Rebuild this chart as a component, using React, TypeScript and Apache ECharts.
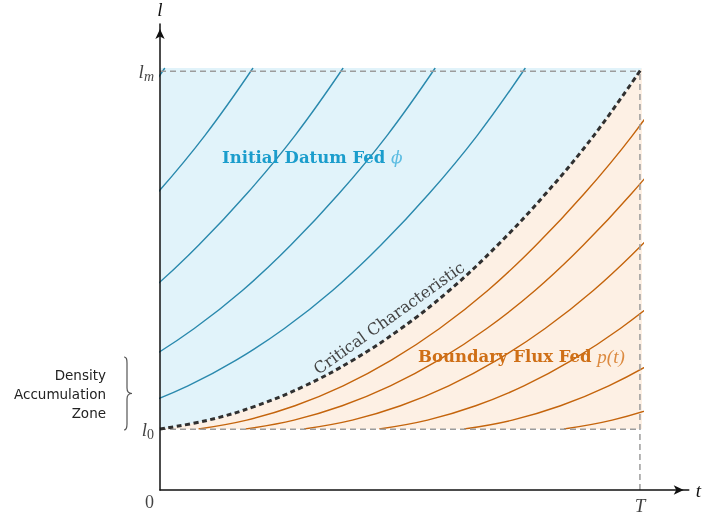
import React, { useEffect, useRef } from 'react';
import * as echarts from 'echarts';

// ---- data ----
const T = 1;
const L0 = 0.145;
const LM = 1;
// critical characteristic (t, l)
const criticalT = [0, 0.1, 0.2, 0.3, 0.4, 0.5, 0.6, 0.7, 0.8, 0.9, 1.0];
const criticalL = [0.145, 0.166, 0.2, 0.247, 0.308, 0.383, 0.473, 0.58, 0.702, 0.84, 1.0];
// characteristics fed by the initial datum: critical curve shifted left by these amounts
const initialShifts = [0.242, 0.429, 0.62, 0.807, 0.99];
// characteristics fed by the boundary flux: critical curve shifted right (entry times)
const boundaryShifts = [0.08, 0.178, 0.299, 0.455, 0.631, 0.838];
const tickLabels = { zero: '0', t: 'T', l0: '0', lm: 'm' };

const BLUE_FILL = '#e1f3fa';
const ORANGE_FILL = '#fdf0e4';
const BLUE_LINE = '#2a89ad';
const ORANGE_LINE = '#c4640c';
const SM = 0.4;

const X_MAX = 531 / 482;
const Y_MAX = 470 / (361 / (LM - L0));

echarts.graphic.registerShape(
  'brace',
  echarts.graphic.extendPath(
    'M0,0 C2.5,0 3,2 3,6 L3,31 C3,34.5 5,36.5 8,36.5 C5,36.5 3,38.5 3,42 L3,67 C3,71 2.5,73 0,73',
    {}
  )
);

const mathFont = { fontFamily: 'Liberation Serif', fontStyle: 'italic', fontSize: 19, color: '#111' };

function buildOption() {
  const critData = criticalT.map((t, i) => [t, criticalL[i]]);
  const series: any[] = [];
  series.push({
    type: 'line', xAxisIndex: 1, yAxisIndex: 1, data: critData, smooth: SM, symbol: 'none', silent: true,
    lineStyle: { width: 0, opacity: 0 }, areaStyle: { color: BLUE_FILL, opacity: 1, origin: 'end' }, z: 1,
  });
  series.push({
    type: 'line', xAxisIndex: 1, yAxisIndex: 1, data: critData, smooth: SM, symbol: 'none', silent: true,
    lineStyle: { width: 0, opacity: 0 }, areaStyle: { color: ORANGE_FILL, opacity: 1, origin: 'start' }, z: 1,
  });
  initialShifts.forEach((s) => {
    series.push({
      type: 'line', xAxisIndex: 1, yAxisIndex: 1, clip: true, silent: true, smooth: SM, symbol: 'none',
      data: criticalT.map((t, i) => [t - s, criticalL[i]]),
      lineStyle: { color: BLUE_LINE, width: 1.4 }, z: 3,
    });
  });
  boundaryShifts.forEach((s) => {
    series.push({
      type: 'line', xAxisIndex: 1, yAxisIndex: 1, clip: true, silent: true, smooth: SM, symbol: 'none',
      data: criticalT.map((t, i) => [t + s, criticalL[i]]),
      lineStyle: { color: ORANGE_LINE, width: 1.4 }, z: 3,
    });
  });
  const refLine = (data: number[][]) => ({
    type: 'line', xAxisIndex: 0, yAxisIndex: 0, clip: false, silent: true, symbol: 'none', data,
    lineStyle: { color: '#9c9c9c', width: 1.5, type: [6, 4] }, z: 4,
  });
  series.push(refLine([[0, LM], [T, LM]]));
  series.push(refLine([[0, L0], [T, L0]]));
  series.push(refLine([[T, 0], [T, LM]]));
  series.push({
    type: 'line', xAxisIndex: 1, yAxisIndex: 1, clip: false, silent: true, data: critData, smooth: SM, symbol: 'none',
    lineStyle: { color: '#303030', width: 3, type: [5, 3.5] }, z: 5,
  });
  const rich = {
    i: { ...mathFont, lineHeight: 24 },
    s: { fontFamily: 'Liberation Serif', fontStyle: 'italic', fontSize: 14, color: '#111', lineHeight: 15, verticalAlign: 'bottom' },
    s0: { fontFamily: 'Liberation Serif', fontSize: 14, color: '#111', lineHeight: 15, verticalAlign: 'bottom' },
    r: { fontFamily: 'Liberation Serif', fontSize: 18, color: '#111' },
  };
  series.push({
    type: 'scatter', xAxisIndex: 0, yAxisIndex: 0, symbolSize: 0, silent: true, z: 6,
    label: { show: true, rich },
    data: [
      { value: [0, LM], label: { formatter: `{i|l}{s|${tickLabels.lm}}`, position: 'left', distance: 6 } },
      { value: [0, L0], label: { formatter: `{i|l}{s0|${tickLabels.l0}}`, position: 'left', distance: 6 } },
      { value: [0, 0], label: { formatter: `{r|${tickLabels.zero}}`, position: 'left', distance: 6, offset: [0, 12] } },
      { value: [T, 0], label: { formatter: `{i|${tickLabels.t}}`, position: 'bottom', distance: 3 } },
    ],
  });

  const axisLine = {
    show: true, onZero: false, symbol: ['none', 'arrow'], symbolSize: [7, 10], symbolOffset: [0, -5],
    lineStyle: { color: '#111', width: 1.5 },
  };
  return {
    animation: false,
    grid: [
      { left: 160, right: 13, top: 20, bottom: 25 },
      { left: 160, right: 62, top: 68, bottom: 86 },
    ],
    xAxis: [
      {
        type: 'value', gridIndex: 0, min: 0, max: X_MAX, z: 10,
        name: 't', nameLocation: 'end', nameGap: 7,
        nameTextStyle: { ...mathFont, verticalAlign: 'middle' },
        axisLine, axisTick: { show: false }, axisLabel: { show: false }, splitLine: { show: false },
      },
      { type: 'value', gridIndex: 1, min: 0, max: T, show: false },
    ],
    yAxis: [
      {
        type: 'value', gridIndex: 0, min: 0, max: Y_MAX, z: 10,
        name: 'l', nameLocation: 'end', nameGap: 5,
        nameTextStyle: { ...mathFont },
        axisLine, axisTick: { show: false }, axisLabel: { show: false }, splitLine: { show: false },
      },
      { type: 'value', gridIndex: 1, min: L0, max: LM, show: false },
    ],
    series,
    graphic: [
      {
        type: 'text', x: 222, y: 157, z: 100, silent: true,
        style: {
          text: '{b|Initial Datum Fed }{p|ϕ}', verticalAlign: 'middle', align: 'left',
          rich: {
            b: { fontFamily: 'DejaVu Serif', fontWeight: 'bold', fontSize: 16.5, fill: '#1b9dcc' },
            p: { fontFamily: 'DejaVu Serif', fontStyle: 'italic', fontSize: 17, fill: '#5dbde2' },
          },
        },
      },
      {
        type: 'text', x: 418, y: 356, z: 100, silent: true,
        style: {
          text: '{b|Boundary Flux Fed }{p|p(t)}', verticalAlign: 'middle', align: 'left',
          rich: {
            b: { fontFamily: 'DejaVu Serif', fontWeight: 'bold', fontSize: 16.5, fill: '#cf6f16' },
            p: { fontFamily: 'Liberation Serif', fontStyle: 'italic', fontSize: 19, fill: '#dc8a40' },
          },
        },
      },
      {
        type: 'text', x: 389, y: 318, rotation: 0.62, z: 100, silent: true,
        style: { text: 'Critical Characteristic', fontFamily: 'DejaVu Serif', fontSize: 16, fill: '#444', align: 'center', verticalAlign: 'middle' },
      },
      {
        type: 'text', x: 106, y: 394, z: 100, silent: true,
        style: { text: 'Density\nAccumulation\nZone', fontFamily: 'DejaVu Sans', fontSize: 13.5, lineHeight: 19, fill: '#222', align: 'right', verticalAlign: 'middle' },
      },
      {
        type: 'brace', x: 124, y: 357, z: 100, silent: true,
        style: { fill: 'none', stroke: '#555', lineWidth: 1.2 },
      },
    ],
  };
}

export default function App() {
  const ref = useRef<HTMLDivElement>(null);
  useEffect(() => {
    const chart = echarts.init(ref.current as HTMLDivElement, null, { renderer: 'svg' });
    chart.setOption(buildOption() as any);
    return () => chart.dispose();
  }, []);
  return <div ref={ref} style={{ position: 'fixed', left: 0, top: 0, width: 704, height: 515 }} />;
}
